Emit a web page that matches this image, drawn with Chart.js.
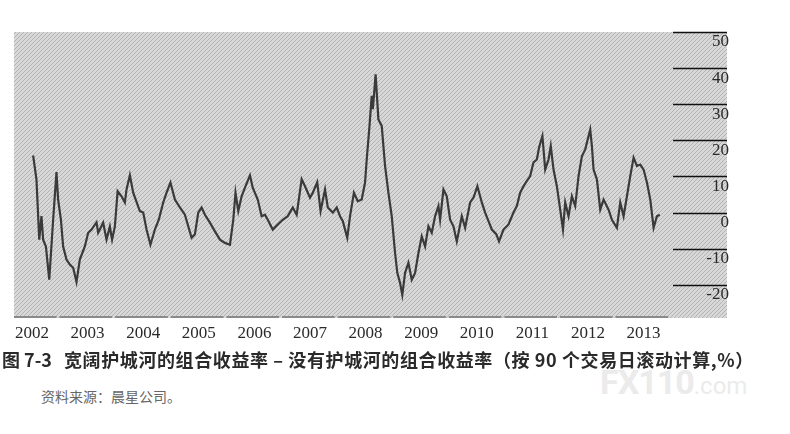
<!DOCTYPE html>
<html>
<head>
<meta charset="utf-8">
<script src="https://cdn.jsdelivr.net/npm/chart.js@4.4.0/dist/chart.umd.min.js"></script>
<style>
  html, body { margin: 0; padding: 0; background: #fff; width: 790px; height: 434px; overflow: hidden; }
  #chart { position: absolute; left: 0; top: 0; }
  #caption { position: absolute; left: 2px; top: 346px; font: bold 18px "Noto Sans CJK SC"; color: #2a2a2a; white-space: nowrap; letter-spacing: 0.6px; }
  #caption .num { margin-right: 12px; letter-spacing: 0; }
  #source { position: absolute; left: 41px; top: 386px; font: 14px "Noto Sans CJK SC"; color: #666; white-space: nowrap; }
  #mark { position: absolute; left: 600px; top: 362px; font: bold 34px Roboto; color: #ebebeb; white-space: nowrap; letter-spacing: -1px; }
  #mark small { font: 24px Roboto; letter-spacing: 0; }
</style>
</head>
<body>
<canvas id="chart" width="790" height="350"></canvas>
<div id="mark">FX110<small>.com</small></div>
<div id="caption"><span class="num">图 7-3</span>宽阔护城河的组合收益率 – 没有护城河的组合收益率（按 90 个交易日滚动计算,%）</div>
<div id="source">资料来源：晨星公司。</div>
<script>
// 90-day rolling return spread, wide moat minus no moat (%)
const years = [
  2002.02, 2002.08, 2002.13, 2002.17, 2002.20, 2002.25, 2002.31, 2002.38, 2002.44, 2002.47,
  2002.52, 2002.56, 2002.62, 2002.68, 2002.74, 2002.80, 2002.86, 2002.95, 2003.01, 2003.07,
  2003.16, 2003.19, 2003.28, 2003.34, 2003.40, 2003.44, 2003.49, 2003.54, 2003.61, 2003.67,
  2003.70, 2003.76, 2003.82, 2003.94, 2004.00, 2004.06, 2004.13, 2004.21, 2004.28, 2004.36,
  2004.42, 2004.49, 2004.57, 2004.66, 2004.75, 2004.81, 2004.87, 2004.93, 2004.99, 2005.05,
  2005.11, 2005.20, 2005.29, 2005.38, 2005.47, 2005.56, 2005.62, 2005.66, 2005.71, 2005.77,
  2005.83, 2005.92, 2005.97, 2006.06, 2006.13, 2006.19, 2006.24, 2006.33, 2006.42, 2006.51,
  2006.60, 2006.69, 2006.76, 2006.85, 2006.91, 2007.00, 2007.05, 2007.13, 2007.19, 2007.27,
  2007.32, 2007.41, 2007.48, 2007.54, 2007.59, 2007.67, 2007.72, 2007.79, 2007.86, 2007.93,
  2007.99, 2008.02, 2008.07, 2008.11, 2008.13, 2008.18, 2008.23, 2008.29, 2008.35, 2008.41,
  2008.47, 2008.53, 2008.57, 2008.62, 2008.66, 2008.71, 2008.77, 2008.83, 2008.89, 2008.95,
  2009.01, 2009.07, 2009.13, 2009.19, 2009.25, 2009.31, 2009.34, 2009.40, 2009.46, 2009.52,
  2009.58, 2009.64, 2009.73, 2009.79, 2009.88, 2009.94, 2010.01, 2010.09, 2010.15, 2010.21,
  2010.27, 2010.35, 2010.40, 2010.48, 2010.57, 2010.66, 2010.72, 2010.78, 2010.84, 2010.88,
  2010.96, 2011.02, 2011.08, 2011.12, 2011.18, 2011.23, 2011.29, 2011.33, 2011.38, 2011.44,
  2011.50, 2011.55, 2011.59, 2011.65, 2011.71, 2011.77, 2011.83, 2011.89, 2011.95, 2012.04,
  2012.07, 2012.10, 2012.16, 2012.22, 2012.28, 2012.37, 2012.43, 2012.52, 2012.58, 2012.64,
  2012.70, 2012.76, 2012.82, 2012.88, 2012.94, 2013.00, 2013.06, 2013.12, 2013.18, 2013.24, 2013.29
]
const spread = [
  15.8, 9.2, -7.5, -1, -7.5, -9.4, -18.6, -2, 11.2, 3.6,
  -2, -9.4, -13, -14.4, -15.3, -19.2, -13, -9.4, -5.6, -4.7,
  -2.7, -5.6, -2.8, -7.5, -3.9, -7.5, -3.9, 5.9, 4.5, 2.8,
  6.4, 10.3, 5.5, 0.4, 0, -4.7, -8.9, -4.7, -2, 2.8,
  5.5, 8.3, 3.6, 1.4, -0.6, -3.8, -7, -6, 0, 1.4,
  -0.6, -2.8, -5.2, -7.5, -8.4, -8.9, -2, 5.5, 0.4, 4.5,
  6.9, 10.3, 6.9, 3.6, -1, -0.6, -2, -4.7, -3.3, -2,
  -1, 1.4, -0.6, 9.2, 7.3, 4.1, 5.5, 8.4, 0.4, 6.4,
  1.4, 0, 1.4, -1, -2.4, -7, -1, 5.5, 3.1, 3.6,
  8.3, 14.7, 24, 32.3, 28.6, 38.3, 25.8, 24, 12.9, 5.5,
  -1, -11.2, -16.7, -19.5, -22.8, -16.7, -13.9, -18.6, -16.7, -11.2,
  -6.6, -9.4, -3.8, -5.6, -1, 1.8, -2, 6.4, 4.5, -2,
  -3.8, -8, -1, -4.2, 2.8, 4.1, 7.3, 2.8, 0, -2.4,
  -4.7, -6, -8, -4.7, -3.3, 0, 1.8, 5.5, 7.3, 8.3,
  10.1, 13.9, 14.7, 18, 21.2, 11.9, 14.7, 18.4, 11.9, 7.3,
  0.8, -4.7, 2.8, -1, 4.5, 1.8, 10.1, 15.6, 17.5, 23,
  18.4, 11.9, 9.2, 0.8, 3.6, 0.8, -2, -4.2, 2.8, -1,
  4.5, 10.1, 15.2, 12.9, 13.3, 11.9, 8.3, 3.6, -4.2, -1, -0.6
]
const yearTicks = [2002, 2003, 2004, 2005, 2006, 2007, 2008, 2009, 2010, 2011, 2012, 2013]
const valueTicks = [-20, -10, 0, 10, 20, 30, 40, 50]

// diagonal hatch used as the plot background
function hatch() {
  const s = 4
  const c = document.createElement('canvas')
  c.width = s
  c.height = s
  const g = c.getContext('2d')
  g.fillStyle = '#d8d8d8'
  g.fillRect(0, 0, s, s)
  g.strokeStyle = '#b3b3b3'
  g.lineWidth = 1
  g.beginPath()
  g.moveTo(0, s); g.lineTo(s, 0)
  g.moveTo(-1, 1); g.lineTo(1, -1)
  g.moveTo(s - 1, s + 1); g.lineTo(s + 1, s - 1)
  g.stroke()
  return g.createPattern(c, 'repeat')
}

const backdrop = {
  id: 'backdrop',
  beforeDraw(chart) {
    const { ctx, chartArea: a, scales } = chart
    ctx.save()
    ctx.fillStyle = hatch()
    ctx.fillRect(a.left, a.top, a.right - a.left, a.bottom - a.top)

    // short rules at the right edge for every value tick
    ctx.strokeStyle = '#111'
    ctx.lineWidth = 1.5
    valueTicks.forEach(v => {
      const y = Math.round(scales.y.getPixelForValue(v)) + 0.5
      ctx.beginPath()
      ctx.moveTo(a.right - 54, y)
      ctx.lineTo(a.right, y)
      ctx.stroke()
    })

    // broken base line, gaps between the year labels
    ctx.strokeStyle = '#8a8a8a'
    ctx.lineWidth = 2
    const yb = a.bottom - 1
    let start = a.left
    yearTicks.forEach(t => {
      const gap = scales.x.getPixelForValue(t + 0.47)
      ctx.beginPath()
      ctx.moveTo(start, yb)
      ctx.lineTo(gap - 1.5, yb)
      ctx.stroke()
      start = gap + 1.5
    })
    ctx.restore()
  }
}

new Chart(document.getElementById('chart'), {
  type: 'line',
  data: {
    datasets: [{
      data: years.map((x, i) => ({ x, y: spread[i] })),
      borderColor: '#3a3a3a',
      borderWidth: 2.2,
      pointRadius: 0,
      tension: 0,
      fill: false
    }]
  },
  options: {
    responsive: false,
    animation: false,
    devicePixelRatio: 1,
    layout: { padding: { left: 14, top: 32, right: 63, bottom: 8 } },
    plugins: { legend: { display: false }, tooltip: { enabled: false } },
    scales: {
      x: {
        type: 'linear',
        min: 2001.676,
        max: 2014.5,
        afterBuildTicks: s => { s.ticks = yearTicks.map(value => ({ value })) },
        afterFit: s => { s.height = 24 },
        grid: { display: false, drawTicks: false },
        border: { display: false },
        ticks: {
          padding: 5,
          maxRotation: 0,
          autoSkip: false,
          color: '#2a2a2a',
          font: { family: 'Liberation Serif', size: 17 },
          callback: v => String(v)
        }
      },
      y: {
        position: 'right',
        min: -29.2,
        max: 50,
        afterBuildTicks: s => { s.ticks = valueTicks.map(value => ({ value })) },
        afterFit: s => { s.width = 0 },
        grid: { display: false, drawTicks: false },
        border: { display: false },
        ticks: {
          mirror: true,
          padding: 2,
          labelOffset: 10,
          color: '#2a2a2a',
          font: { family: 'Liberation Serif', size: 17 },
          callback: v => String(v)
        }
      }
    }
  },
  plugins: [backdrop]
})
</script>
</body>
</html>
